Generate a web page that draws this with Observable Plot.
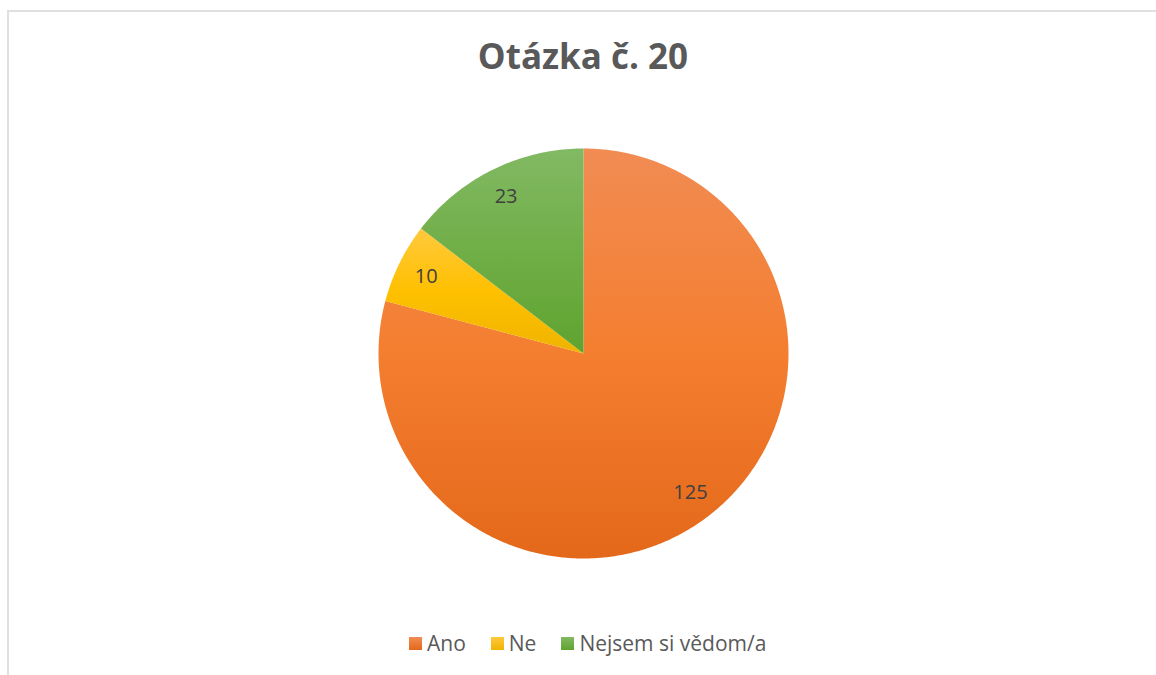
<!DOCTYPE html>
<html>
<head>
<meta charset="utf-8">
<script src="https://cdn.jsdelivr.net/npm/d3@7"></script>
<script src="https://cdn.jsdelivr.net/npm/@observablehq/plot@0.6"></script>
<style>
  html, body { margin: 0; padding: 0; background: #fff; }
  #page { position: relative; width: 1156px; height: 675px; overflow: hidden; font-family: "Open Sans", sans-serif; }
  #frame { position: absolute; left: 7px; top: 10px; width: 1160px; height: 680px; border-left: 2px solid #e0e0e0; border-top: 2px solid #e0e0e0; box-sizing: border-box; }
  #title { position: absolute; left: 0; width: 1166px; top: 35px; text-align: center; font-weight: 700; font-size: 35px; color: #595959; line-height: 1.2; }
  #chart { position: absolute; left: 0; top: 120px; }
  #legend { position: absolute; left: 409px; top: 629px; display: flex; align-items: center; font-size: 21px; color: #595959; white-space: nowrap; }
  .item { display: flex; align-items: center; margin-right: 25px; }
  .sw { width: 13px; height: 13px; margin-right: 5px; }
</style>
</head>
<body>
<div id="page">
  <div id="frame"></div>
  <div id="title">Otázka č. 20</div>
  <div id="chart"></div>
  <div id="legend"></div>
</div>
<script>
// ---- data ----
const categories = ["Ano", "Ne", "Nejsem si vědom/a"];
const values = [125, 10, 23];
const colorsTop = ["#F18C53", "#FFC93D", "#82B964"];
const colorsMid = ["#F47E30", "#FFC000", "#70AE47"];
const colorsBottom = ["#E4681A", "#EFB400", "#60A330"];

// ---- geometry ----
const W = 1156, H = 480;
const cx = 583, cy = 233, R = 205;
const labelRadius = 0.855;

const arcs = d3.pie().sort(null).startAngle(0).endAngle(2 * Math.PI)(values);

function slicePoints(a0, a1, name) {
  const pts = [{slice: name, x: 0, y: 0}];
  const n = Math.max(8, Math.ceil((a1 - a0) / (Math.PI / 180) * 2));
  for (let i = 0; i <= n; i++) {
    const a = a0 + (a1 - a0) * i / n;
    pts.push({slice: name, x: Math.sin(a), y: Math.cos(a)});
  }
  pts.push({slice: name, x: 0, y: 0});
  return pts;
}

const slices = arcs.map((d, i) => slicePoints(d.startAngle, d.endAngle, categories[i]));
const circle = slicePoints(0, 2 * Math.PI, "all").slice(1, -1);
const labels = arcs.map((d, i) => {
  const m = (d.startAngle + d.endAngle) / 2;
  return {x: labelRadius * Math.sin(m), y: labelRadius * Math.cos(m), text: String(values[i])};
});

const plot = Plot.plot({
  width: W,
  height: H,
  margin: 0,
  x: {domain: [-1, 1], range: [cx - R, cx + R], axis: null},
  y: {domain: [-1, 1], range: [cy + R, cy - R], axis: null},
  marks: [
    Plot.line(circle, {x: "x", y: "y", fill: "#000", fillOpacity: 0.35, stroke: "none", dx: 1.5, dy: 2.5, ariaLabel: "shadow"}),
    ...slices.map((pts, i) => Plot.line(pts, {x: "x", y: "y", fill: `url(#g${i})`, stroke: "none", curve: "linear", ariaLabel: "slice"})),
    Plot.text(labels, {x: "x", y: "y", text: "text", fontSize: 20, fill: "#404040", fontFamily: "Open Sans"})
  ]
});

const svg = d3.select(plot);
const defs = svg.insert("defs", ":first-child");
categories.forEach((c, i) => {
  const g = defs.append("linearGradient").attr("id", `g${i}`).attr("x1", 0).attr("y1", 0).attr("x2", 0).attr("y2", 1);
  g.append("stop").attr("offset", "0%").attr("stop-color", colorsTop[i]);
  g.append("stop").attr("offset", "50%").attr("stop-color", colorsMid[i]);
  g.append("stop").attr("offset", "100%").attr("stop-color", colorsBottom[i]);
});
const f = defs.append("filter").attr("id", "blur").attr("x", "-10%").attr("y", "-10%").attr("width", "120%").attr("height", "120%");
f.append("feGaussianBlur").attr("stdDeviation", 2.5);
svg.select('[aria-label="shadow"]').attr("filter", "url(#blur)");

document.getElementById("chart").appendChild(plot);

// ---- legend ----
const legend = d3.select("#legend");
categories.forEach((c, i) => {
  const it = legend.append("div").attr("class", "item");
  it.append("div").attr("class", "sw").style("background", `linear-gradient(${colorsTop[i]}, ${colorsBottom[i]})`);
  it.append("span").text(c);
});
</script>
</body>
</html>
